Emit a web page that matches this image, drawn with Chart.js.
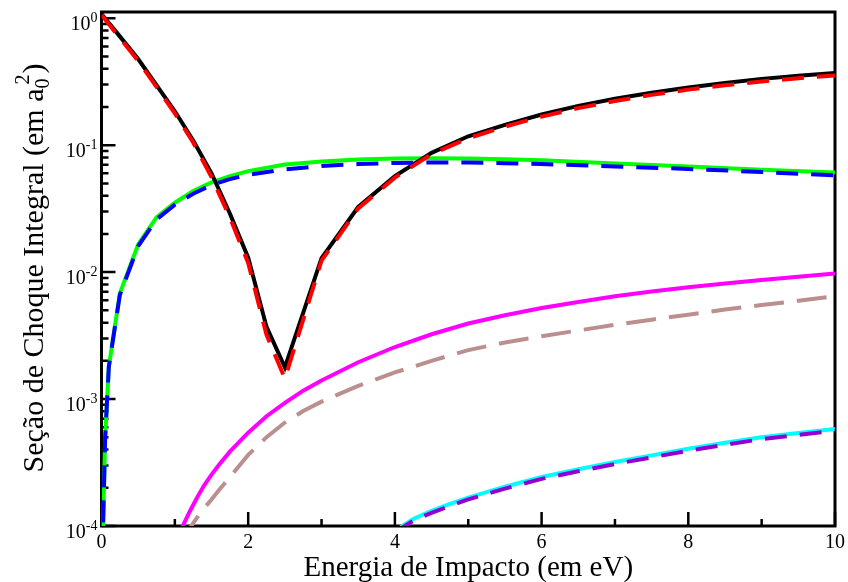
<!DOCTYPE html>
<html>
<head>
<meta charset="utf-8">
<script src="https://cdn.jsdelivr.net/npm/chart.js@4.4.1/dist/chart.umd.min.js"></script>
<style>
  html, body { margin: 0; padding: 0; background: #fff; }
  canvas { display: block; }
</style>
</head>
<body>
<canvas id="grafico" width="848" height="582"></canvas>
<script>
// energias (eV) de cada grupo de curvas
const eTotal = [0, 0.25, 0.5, 0.75, 1, 1.25, 1.5, 1.75, 2, 2.25, 2.5, 3, 3.5, 4, 4.5, 5, 5.5, 6, 6.5, 7, 7.5, 8, 8.5, 9, 9.5, 10];
const eExc = [0, 0.05, 0.1, 0.25, 0.5, 0.75, 1, 1.25, 1.5, 1.75, 2, 2.5, 3, 3.5, 4, 4.5, 5, 5.5, 6, 7, 8, 9, 10];
const eLimiar1 = [1.1, 1.2, 1.3, 1.4, 1.5, 1.6, 1.75, 2, 2.25, 2.5, 2.75, 3, 3.5, 4, 4.5, 5, 5.5, 6, 6.5, 7, 7.5, 8, 8.5, 9, 9.5, 10];
const eLimiar2 = [4, 4.1, 4.25, 4.5, 4.75, 5, 5.5, 6, 6.5, 7, 7.5, 8, 8.5, 9, 9.5, 10];

// secoes de choque (a0^2)
const preto = [1.08, 0.72, 0.477, 0.297, 0.185, 0.109, 0.06, 0.029, 0.013, 0.0037, 0.00178, 0.0129, 0.0326, 0.057, 0.087, 0.1175, 0.1445, 0.1746, 0.204, 0.232, 0.259, 0.285, 0.309, 0.333, 0.352, 0.37];
const vermelho = [1.06, 0.70, 0.46, 0.288, 0.178, 0.105, 0.056, 0.027, 0.0118, 0.0032, 0.00145, 0.0123, 0.0318, 0.0555, 0.085, 0.1135, 0.14, 0.168, 0.196, 0.223, 0.249, 0.274, 0.296, 0.318, 0.337, 0.354];
const verde = [3e-5, 5e-4, 0.0018, 0.0068, 0.0165, 0.027, 0.0352, 0.0435, 0.051, 0.057, 0.0625, 0.0705, 0.0745, 0.0772, 0.0785, 0.0788, 0.0785, 0.0775, 0.076, 0.0718, 0.068, 0.064, 0.0608];
const azul = [3e-5, 5e-4, 0.0018, 0.0066, 0.016, 0.026, 0.034, 0.0415, 0.0485, 0.054, 0.0585, 0.0645, 0.0685, 0.071, 0.0725, 0.0732, 0.073, 0.0722, 0.071, 0.068, 0.065, 0.0615, 0.0578];
const magenta = [9.8e-5, 1.29e-4, 1.66e-4, 2.09e-4, 2.54e-4, 3.02e-4, 3.85e-4, 5.43e-4, 7.33e-4, 9.33e-4, 1.164e-3, 1.40e-3, 1.95e-3, 2.57e-3, 3.24e-3, 3.94e-3, 4.57e-3, 5.21e-3, 5.82e-3, 6.46e-3, 7.03e-3, 7.59e-3, 8.13e-3, 8.67e-3, 9.2e-3, 9.77e-3];
const marrom = [7.6e-5, 9.55e-5, 1.16e-4, 1.38e-4, 1.62e-4, 1.91e-4, 2.43e-4, 3.63e-4, 5.01e-4, 6.53e-4, 8.04e-4, 9.55e-4, 1.27e-3, 1.62e-3, 2.0e-3, 2.43e-3, 2.79e-3, 3.13e-3, 3.47e-3, 3.85e-3, 4.22e-3, 4.62e-3, 5.07e-3, 5.5e-3, 5.96e-3, 6.46e-3];
const ciano = [8.9e-5, 1.0e-4, 1.135e-4, 1.318e-4, 1.496e-4, 1.675e-4, 2.04e-4, 2.43e-4, 2.8e-4, 3.19e-4, 3.6e-4, 4.06e-4, 4.52e-4, 5.0e-4, 5.41e-4, 5.82e-4];
const violeta = [8.6e-5, 9.7e-5, 1.1e-4, 1.27e-4, 1.44e-4, 1.62e-4, 1.97e-4, 2.35e-4, 2.7e-4, 3.08e-4, 3.47e-4, 3.92e-4, 4.37e-4, 4.83e-4, 5.22e-4, 5.62e-4];

// marcas dos eixos
const xMaiores = [0, 2, 4, 6, 8, 10];
const xMenores = [1, 3, 5, 7, 9];
const xRotulos = ['0', '2', '4', '6', '8', '10'];
const yMaiores = [1e-4, 1e-3, 1e-2, 1e-1, 1];
const yExpoentes = ['-4', '-3', '-2', '-1', '0'];

const fonte = '"Liberation Serif", "Times New Roman", serif';

function pontos(xs, ys) {
    return xs.map((x, i) => ({ x: x, y: ys[i] }));
}

// tracejadas ficam por cima das continuas
function curva(xs, ys, cor, traco) {
    return {
        data: pontos(xs, ys),
        borderColor: cor,
        borderWidth: 4,
        borderDash: traco || [],
        pointRadius: 0,
        tension: 0,
        fill: false,
        order: traco ? 1 : 2
    };
}

const eixos = {
    id: 'eixos',
    beforeDatasetsDraw(chart) {
        const ctx = chart.ctx;
        const a = chart.chartArea;
        const x = chart.scales.x;
        const y = chart.scales.y;
        ctx.save();
        ctx.strokeStyle = '#000';
        ctx.lineWidth = 3;
        ctx.strokeRect(a.left, a.top, a.right - a.left, a.bottom - a.top);

        // marcas para dentro, so embaixo e na esquerda
        ctx.lineWidth = 2.5;
        ctx.beginPath();
        xMaiores.forEach(v => {
            const px = x.getPixelForValue(v);
            ctx.moveTo(px, a.bottom);
            ctx.lineTo(px, a.bottom - 14);
        });
        xMenores.forEach(v => {
            const px = x.getPixelForValue(v);
            ctx.moveTo(px, a.bottom);
            ctx.lineTo(px, a.bottom - 7);
        });
        yMaiores.forEach(v => {
            const py = y.getPixelForValue(v);
            ctx.moveTo(a.left, py);
            ctx.lineTo(a.left + 14, py);
        });
        for (let d = 0; d < yMaiores.length - 1; d++) {
            for (let m = 2; m <= 9; m++) {
                const py = y.getPixelForValue(yMaiores[d] * m);
                ctx.moveTo(a.left, py);
                ctx.lineTo(a.left + 7, py);
            }
        }
        ctx.stroke();

        // rotulos
        ctx.fillStyle = '#000';
        ctx.textBaseline = 'alphabetic';
        ctx.font = '20px ' + fonte;
        ctx.textAlign = 'center';
        xMaiores.forEach((v, i) => {
            ctx.fillText(xRotulos[i], x.getPixelForValue(v), a.bottom + 22);
        });
        yMaiores.forEach((v, i) => {
            const py = y.getPixelForValue(v);
            ctx.font = '14px ' + fonte;
            const wExp = ctx.measureText(yExpoentes[i]).width;
            ctx.textAlign = 'right';
            ctx.fillText(yExpoentes[i], a.left - 4, py + 4);
            ctx.font = '20px ' + fonte;
            ctx.fillText('10', a.left - 4 - wExp, py + 12);
        });

        // titulo do eixo x
        ctx.font = '29px ' + fonte;
        ctx.textAlign = 'center';
        ctx.fillText('Energia de Impacto (em eV)', (a.left + a.right) / 2, 576);

        // titulo do eixo y, com a0 e o expoente 2
        const base = 'Seção de Choque Integral (em a';
        ctx.font = '30px ' + fonte;
        const w1 = ctx.measureText(base).width;
        ctx.font = '20px ' + fonte;
        const wSub = ctx.measureText('0').width;
        ctx.font = '30px ' + fonte;
        const wPar = ctx.measureText(')').width;
        const total = w1 + wSub + 3 + wPar;
        ctx.translate(43, (a.top + a.bottom) / 2);
        ctx.rotate(-Math.PI / 2);
        ctx.textAlign = 'left';
        let cx = -total / 2;
        ctx.fillText(base, cx, 0);
        cx += w1;
        ctx.font = '20px ' + fonte;
        ctx.fillText('0', cx, 6);
        ctx.fillText('2', cx + 4, -14);
        ctx.font = '30px ' + fonte;
        ctx.fillText(')', cx + wSub + 5, 0);
        ctx.restore();
    }
};

const grafico = new Chart(document.getElementById('grafico'), {
    type: 'line',
    data: {
        datasets: [
            curva(eTotal, preto, '#000000'),
            curva(eTotal, vermelho, '#ff0000', [22, 13]),
            curva(eExc, verde, '#00ff00'),
            curva(eExc, azul, '#0000ff', [22, 13]),
            curva(eLimiar1, magenta, '#ff00ff'),
            curva(eLimiar1, marrom, '#bc8f8f', [30, 13]),
            curva(eLimiar2, ciano, '#00ffff'),
            curva(eLimiar2, violeta, '#9400d3', [22, 13])
        ]
    },
    options: {
        responsive: false,
        animation: false,
        layout: { padding: { left: 101.5, right: 13, top: 12, bottom: 56 } },
        scales: {
            x: { type: 'linear', min: 0, max: 10, display: false },
            y: { type: 'logarithmic', min: 1e-4, max: 1.12, display: false }
        },
        plugins: {
            legend: { display: false },
            tooltip: { enabled: false }
        }
    },
    plugins: [eixos]
});
</script>
</body>
</html>
